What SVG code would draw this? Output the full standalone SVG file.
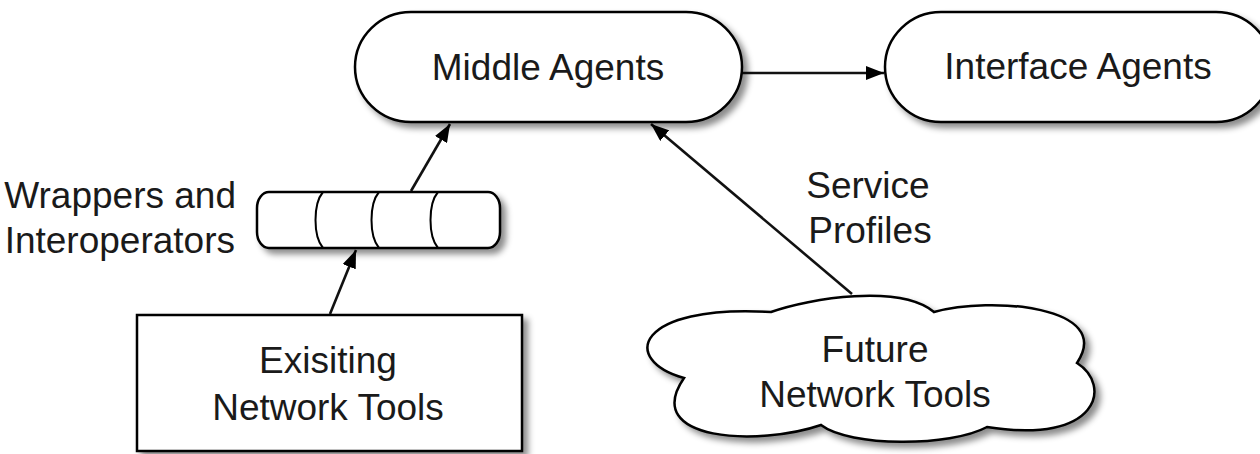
<svg xmlns="http://www.w3.org/2000/svg" width="1260" height="454" viewBox="0 0 1260 454">
<style>
.node{fill:#fff;stroke:#000;stroke-width:2.5;filter:url(#sh)}
.cell{fill:none;stroke:#000;stroke-width:2}
.lbl{font-family:"Liberation Sans",Arial,sans-serif;font-size:37px;fill:#1a1a1a}
.mid{text-anchor:middle}
.end{text-anchor:end}
.edge{stroke:#111;stroke-width:2.6;fill:none;marker-end:url(#ah)}
</style>
<defs>
<filter id="sh" x="-10%" y="-10%" width="130%" height="140%">
<feGaussianBlur in="SourceAlpha" stdDeviation="3"/>
<feOffset dx="5" dy="5" result="b"/>
<feFlood flood-color="#000" flood-opacity="0.45"/>
<feComposite in2="b" operator="in"/>
<feMerge><feMergeNode/><feMergeNode in="SourceGraphic"/></feMerge>
</filter>
<marker id="ah" viewBox="0 0 18 14" refX="18" refY="7" markerWidth="18" markerHeight="14" markerUnits="userSpaceOnUse" orient="auto">
<path d="M0,0 L18,7 L0,14 Z" fill="#000"/>
</marker>
</defs>
<rect width="1260" height="454" fill="#fff"/>
<g id="connectors">
<line class="edge" x1="742" y1="73" x2="884" y2="73"/>
<line class="edge" x1="411" y1="191" x2="450" y2="124"/>
<line class="edge" x1="330" y1="314" x2="356" y2="250"/>
<line class="edge" x1="852" y1="294" x2="651" y2="124"/>
</g>
<g id="middle-agents">
<rect class="node" x="355" y="12" width="387" height="110" rx="56" ry="55"/>
<text class="lbl mid" x="548" y="80">Middle Agents</text>
</g>
<g id="interface-agents">
<rect class="node" x="885" y="12" width="387" height="110" rx="56" ry="55"/>
<text class="lbl mid" x="1078" y="79">Interface Agents</text>
</g>
<g id="wrappers">
<rect class="node" x="257" y="192" width="243" height="56" rx="12" ry="16"/>
<path class="cell" d="M323,192 C313,204 313,236 323,248"/>
<path class="cell" d="M379,192 C369,204 369,236 379,248"/>
<path class="cell" d="M438,192 C428,204 428,236 438,248"/>
<text class="lbl end" x="236" y="208">Wrappers and</text>
<text class="lbl end" x="235" y="253">Interoperators</text>
</g>
<g id="existing-tools">
<rect class="node" x="137" y="315" width="385" height="136"/>
<text class="lbl mid" x="328" y="373">Exisiting</text>
<text class="lbl mid" x="328" y="420">Network Tools</text>
</g>
<g id="future-tools">
<path class="node" d="M771,312 C810,298 900,284 934,312 C990,296 1115,306 1077,363 C1112,385 1100,445 987,427 C950,447 850,447 821,425 C760,446 640,442 684,378 C620,360 635,304 771,312 Z"/>
<text class="lbl mid" x="875" y="362">Future</text>
<text class="lbl mid" x="875" y="407">Network Tools</text>
</g>
<g id="service-profiles">
<text class="lbl mid" x="868" y="198">Service</text>
<text class="lbl mid" x="870" y="243">Profiles</text>
</g>
</svg>
